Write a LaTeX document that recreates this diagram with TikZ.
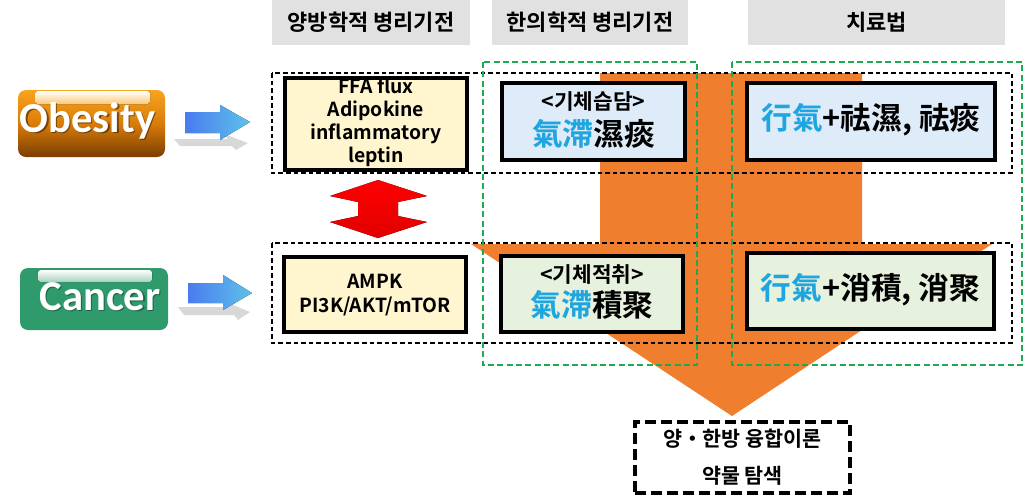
\documentclass[tikz,border=0pt]{standalone}
\usepackage{fontspec}
\newfontfamily\kr{Noto Sans CJK KR}[BoldFont={Noto Sans CJK KR Bold}]
\newfontfamily\carl{Carlito}
\definecolor{hdrgray}{HTML}{E1E1E1}
\definecolor{org}{HTML}{EF7F2F}
\definecolor{grn}{HTML}{1DAA50}
\definecolor{yel}{HTML}{FFF6CF}
\definecolor{lblue}{HTML}{DEEBF8}
\definecolor{lgreen}{HTML}{E6F1DE}
\definecolor{cy}{HTML}{1FA5E0}
\definecolor{obt}{HTML}{F8A41E}
\definecolor{obm}{HTML}{D97C0A}
\definecolor{obb}{HTML}{7A3E00}
\definecolor{cgreen}{HTML}{2F9A6C}
\definecolor{bl1}{HTML}{4A7BEF}
\definecolor{bl2}{HTML}{5EC2E8}
\definecolor{shd}{HTML}{D8D8D8}
\begin{document}
\begin{tikzpicture}[x=0.75pt,y=-0.75pt,
  hdr/.style={fill=hdrgray, minimum height={45*0.75pt}, inner sep=0pt,
    font=\kr\bfseries\fontsize{16.5}{18}\selectfont},
  ibox/.style={draw=black, line width=3pt, inner sep=0pt},
  rowbox/.style={draw=black, line width=1.4pt, dash pattern=on 3.5pt off 2.2pt},
  colbox/.style={draw=grn, line width=2.2pt, dash pattern=on 4.5pt off 2.5pt},
  small/.style={font=\kr\bfseries\fontsize{14.5}{17.25}\selectfont, align=center, inner sep=0pt},
  big/.style={font=\kr\bfseries\fontsize{23}{26}\selectfont, inner sep=0pt},
  btntext/.style={font=\carl\bfseries\fontsize{32}{32}\selectfont, inner sep=0pt, anchor=base},
]
\useasboundingbox (0,0) rectangle (1024,501);
% headers
\node[hdr, minimum width={198*0.75pt}] (h1) at (371,22.5) {양방학적 병리기전};
\node[hdr, minimum width={196*0.75pt}] (h2) at (590,22.5) {한의학적 병리기전};
\node[hdr, minimum width={257*0.75pt}] (h3) at (876.5,22.5) {치료법};
% big orange arrow
\fill[org] (600,73) -- (862,73) -- (862,244) -- (992,244) -- (732,416) -- (471,244) -- (600,244) -- cycle;
% row frames
\draw[rowbox] (272,73) rectangle (1012,173);
\draw[rowbox] (272,243) rectangle (1012,343);
% column frames
\draw[colbox] (483,62) rectangle (697,365);
\draw[colbox] (732,62) rectangle (1022,365);
% row 1 boxes
\node[ibox, fill=yel, minimum width={182*0.75pt}, minimum height={92*0.75pt}] (m1) at (376,124) {};
\node[small] (m1t) at (376,122.5) {FFA flux\\Adipokine\\inflammatory\\leptin};
\node[ibox, fill=lblue, minimum width={183*0.75pt}, minimum height={77*0.75pt}] (k1) at (593.5,121.5) {};
\node[font=\kr\bfseries\fontsize{16}{18}\selectfont, inner sep=0pt] (k1a) at (593.5,101) {<기체습담>};
\node[big] (k1b) at (593.5,134) {\textcolor{cy}{氣滯}濕痰};
\node[ibox, fill=lblue, minimum width={248*0.75pt}, minimum height={77*0.75pt}] (t1) at (871,121.5) {};
\node[big] (t1t) at (871,119.5) {\textcolor{cy}{行氣}+祛濕, 祛痰};
% row 2 boxes
\node[ibox, fill=yel, minimum width={182*0.75pt}, minimum height={75*0.75pt}] (m2) at (375,294.5) {};
\node[small, font=\kr\bfseries\fontsize{14.5}{18}\selectfont] (m2t) at (375,295) {AMPK\\PI3K/AKT/mTOR};
\node[ibox, fill=lgreen, minimum width={182*0.75pt}, minimum height={76*0.75pt}] (k2) at (592,294) {};
\node[font=\kr\bfseries\fontsize{16}{18}\selectfont, inner sep=0pt] (k2a) at (592,274.5) {<기체적취>};
\node[big] (k2b) at (592,305) {\textcolor{cy}{氣滯}積聚};
\node[ibox, fill=lgreen, minimum width={247*0.75pt}, minimum height={76*0.75pt}] (t2) at (870.5,291) {};
\node[big] (t2t) at (870.5,289.5) {\textcolor{cy}{行氣}+消積, 消聚};
% bottom box
\node[draw=black, line width=3pt, dash pattern=on 8pt off 4pt, minimum width={215*0.75pt}, minimum height={71*0.75pt},
  align=center, font=\kr\bfseries\fontsize{15.5}{27.75}\selectfont, inner sep=0pt] (res) at (742.5,457.5) {양・한방 융합이론\\약물 탐색};
% red double arrow
\fill[top color=red, bottom color=red!88!black]
  (378,180) -- (427,196) -- (398,202) -- (398,216) -- (427,222) -- (378,238)
  -- (330,222) -- (358,216) -- (358,202) -- (330,196) -- cycle;
% Obesity button
\node[rounded corners=6pt, minimum width={147*0.75pt}, minimum height={67*0.75pt}, inner sep=0pt,
  top color=obt, bottom color=obb, middle color=obm] (obesity) at (91.5,123.5) {};
\fill[rounded corners=2pt, top color=white, bottom color=obt!60!white] (35,91) rectangle (150,104);
\node[btntext, text=black, opacity=0.45] (obs) at (89,133.5) {Obesity};
\node[btntext, text=white] (obt) at (87.5,132) {Obesity};
% Cancer button
\node[rounded corners=6pt, minimum width={148*0.75pt}, minimum height={62*0.75pt}, inner sep=0pt,
  fill=cgreen] (cancer) at (94,299) {};
\fill[rounded corners=2pt, top color=white, bottom color=cgreen!45!white] (38,270) rectangle (152,282);
\node[btntext, text=black, opacity=0.35] (cas) at (101.5,311.5) {Cancer};
\node[btntext, text=white] (cat) at (100,310) {Cancer};
% blue arrows with shadows
\fill[shd] (174,139) -- (228,139) -- (224,134) -- (248,143) -- (236,150) -- (232,146) -- (180,146) -- cycle;
\fill[left color=bl1, right color=bl2] (185,112) -- (220,112) -- (220,105) -- (250,122) -- (220,140) -- (220,133) -- (185,133) -- cycle;
\fill[shd] (178,307) -- (230,307) -- (226,302) -- (250,312) -- (238,320) -- (234,315) -- (184,315) -- cycle;
\fill[left color=bl1, right color=bl2] (188,283) -- (223,283) -- (223,275) -- (252,293) -- (223,310) -- (223,303) -- (188,303) -- cycle;
\end{tikzpicture}
\end{document}
